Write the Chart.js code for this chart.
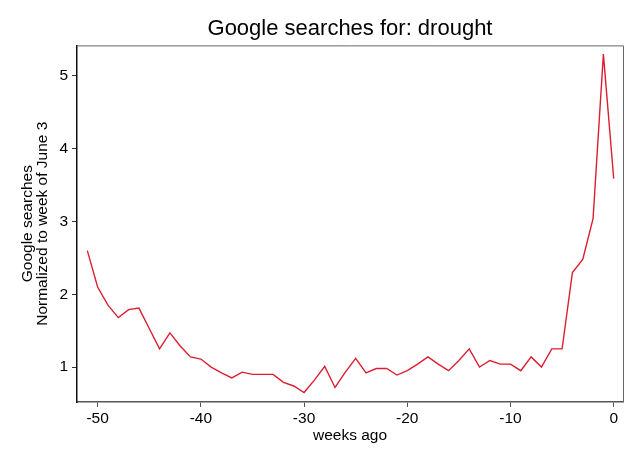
<!DOCTYPE html>
<html>
<head>
<meta charset="utf-8">
<script src="https://cdn.jsdelivr.net/npm/chart.js@4.4.0/dist/chart.umd.min.js"></script>
<style>
  html, body { margin: 0; padding: 0; background: #fff; }
  #wrap { width: 640px; height: 466px; }
</style>
</head>
<body>
<div id="wrap"><canvas id="chart" width="640" height="466"></canvas></div>
<script>
// weeks before the week of June 3
const weeks = [-51, -50, -49, -48, -47, -46, -45, -44, -43, -42, -41, -40, -39, -38, -37, -36, -35, -34,
  -33, -32, -31, -30, -29, -28, -27, -26, -25, -24, -23, -22, -21, -20, -19, -18, -17, -16, -15, -14,
  -13, -12, -11, -10, -9, -8, -7, -6, -5, -4, -3, -2, -1, 0]
// searches normalized to week of June 3
const searches = [2.60, 2.10, 1.85, 1.68, 1.79, 1.81, 1.53, 1.25, 1.47, 1.29, 1.14, 1.11, 1.00, 0.92, 0.85,
  0.93, 0.90, 0.90, 0.90, 0.79, 0.74, 0.65, 0.82, 1.01, 0.72, 0.93, 1.12, 0.92, 0.98, 0.98, 0.89, 0.95,
  1.04, 1.14, 1.04, 0.95, 1.09, 1.25, 1.00, 1.09, 1.04, 1.04, 0.95, 1.14, 1.00, 1.25, 1.25, 2.30, 2.48,
  3.04, 5.30, 3.59]
const xTicks = [-50, -40, -30, -20, -10, 0]
const yTicks = [1, 2, 3, 4, 5]

const font = "'Liberation Sans', Arial, Helvetica, sans-serif"

// stata style frame: gray top and right edges
const framePlugin = {
  id: 'frame',
  afterDraw(chart) {
    const {ctx, chartArea: a} = chart
    ctx.save()
    ctx.strokeStyle = '#666'
    ctx.lineWidth = 1
    ctx.beginPath()
    ctx.moveTo(a.left, a.top + 0.5)
    ctx.lineTo(a.right + 0.5, a.top + 0.5)
    ctx.lineTo(a.right + 0.5, a.bottom)
    ctx.stroke()
    ctx.restore()
  }
}

new Chart(document.getElementById('chart'), {
  type: 'line',
  data: {
    datasets: [{
      label: 'drought',
      data: weeks.map((w, i) => ({x: w, y: searches[i]})),
      borderColor: '#dc1e30',
      borderWidth: 1.4,
      pointRadius: 0,
      tension: 0,
      fill: false
    }]
  },
  options: {
    responsive: false,
    animation: false,
    layout: {padding: {left: 0, right: 17, top: 0, bottom: 21}},
    plugins: {
      legend: {display: false},
      tooltip: {enabled: false},
      title: {
        display: true,
        fullSize: false,
        text: 'Google searches for: drought',
        color: '#000',
        font: {family: font, size: 22, weight: 'normal', lineHeight: 1.2},
        padding: {top: 16, bottom: 3}
      }
    },
    scales: {
      x: {
        type: 'linear',
        min: -52,
        max: 0.9,
        afterBuildTicks: s => { s.ticks = xTicks.map(v => ({value: v})) },
        afterFit: s => { s.height = 43 },
        grid: {drawOnChartArea: false, drawTicks: true, tickLength: 5, color: '#555'},
        border: {color: '#555', width: 1.5},
        ticks: {color: '#000', padding: 2, maxRotation: 0, font: {family: font, size: 15.5}},
        title: {
          display: true,
          text: 'weeks ago',
          color: '#000',
          font: {family: font, size: 15.5, lineHeight: 1.2},
          padding: {top: 1, bottom: 0}
        }
      },
      y: {
        min: 0.52,
        max: 5.42,
        afterBuildTicks: s => { s.ticks = yTicks.map(v => ({value: v})) },
        afterFit: s => { s.width = 77 },
        grid: {drawOnChartArea: false, drawTicks: true, tickLength: 5, color: '#333'},
        border: {color: '#111', width: 1.5},
        ticks: {color: '#000', padding: 4, font: {family: font, size: 15.5}},
        title: {
          display: true,
          text: ['Google searches', 'Normalized to week of June 3'],
          color: '#000',
          font: {family: font, size: 15.5, lineHeight: 0.98},
          padding: {top: 20, bottom: 0}
        }
      }
    }
  },
  plugins: [framePlugin]
})
</script>
</body>
</html>
